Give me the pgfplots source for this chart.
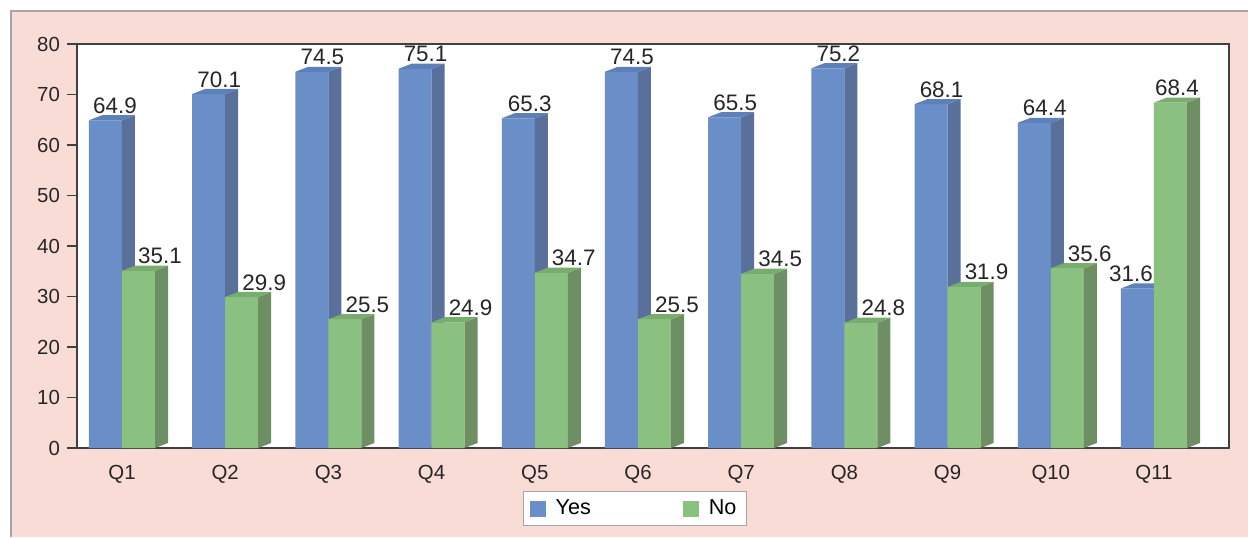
\documentclass[border=0pt]{standalone}
\usepackage{fontspec}
\setmainfont{Liberation Sans}
\usepackage{pgfplots}
\usepackage{pgfplotstable}
\pgfplotsset{compat=1.18}

\definecolor{pinkbg}{HTML}{FADCD7}
\definecolor{framegray}{HTML}{A6A6A6}
\definecolor{axisgray}{HTML}{404040}
\definecolor{yesfront}{HTML}{6A8EC8}
\definecolor{yesside}{HTML}{58709A}
\definecolor{yestop}{HTML}{5E80B9}
\definecolor{nofront}{HTML}{8AC180}
\definecolor{noside}{HTML}{6E8E64}
\definecolor{notop}{HTML}{79AC6F}

% answers per question (percent); ydx/ndx: horizontal position of the value labels
% relative to the middle of each pair of bars (pt)
\pgfplotstableread{
q  yes   no    ydx    ndx
0  64.9  35.1  -3.5   19.0
1  70.1  29.9  -3.0   19.5
2  74.5  25.5  -3.0   19.5
3  75.1  24.9  -3.0   19.5
4  65.3  34.7  -2.5   19.5
5  74.5  25.5  -3.0   19.5
6  65.5  34.5  -3.0   19.5
7  75.2  24.8  -3.0   19.5
8  68.1  31.9  -3.0   19.5
9  64.4  35.6  -3.0   19.5
10 31.6  68.4  -11.5  11.5
}\answers

% geometry of the pseudo-3D bars (axis units)
\def\barw{0.32}
\def\depx{0.126}
\def\depy{1.0}

% side and top faces of one bar: #1 row, #2 column, #3 offset of the front's right edge, #4 side colour, #5 top colour
\newcommand\barfaces[5]{%
  \pgfplotstablegetelem{#1}{#2}\of\answers
  \let\val\pgfplotsretval
  \pgfmathsetmacro\xl{#1+#3-\barw}%
  \pgfmathsetmacro\xr{#1+#3}%
  \pgfmathsetmacro\xrd{#1+#3+\depx}%
  \pgfmathsetmacro\xld{#1+#3-\barw+\depx}%
  \pgfmathsetmacro\vtop{\val+\depy}%
  \edef\faces{%
    \noexpand\addplot[fill=#4, draw=none, mark=none, forget plot]
      coordinates {(\xr,0) (\xrd,\depy) (\xrd,\vtop) (\xr,\val)};
    \noexpand\addplot[fill=#5, draw=none, mark=none, forget plot]
      coordinates {(\xl,\val) (\xr,\val) (\xrd,\vtop) (\xld,\vtop)};
  }\faces
}

\pgfplotsset{
  value labels/.style={
    nodes near coords,
    every node near coord/.append style={
      font=\fontsize{11.2}{13}\selectfont, text=black!85,
      anchor=base, yshift=3.5pt, xshift=\labdx pt,
      /pgf/number format/fixed,
      /pgf/number format/precision=1,
      /pgf/number format/fixed zerofill,
      /pgf/number format/assume math mode=true},
  },
}

\begin{document}
\begin{tikzpicture}
\path[use as bounding box] (0,0) rectangle (624pt,-268.5pt);
\fill[pinkbg] (5.5pt,-5.5pt) rectangle (624pt,-268.5pt);
\draw[framegray, line width=0.8pt] (5.5pt,-268.5pt) -- (5.5pt,-5.5pt) -- (624pt,-5.5pt);

\begin{axis}[
  at={(38.5pt,-224pt)}, anchor=south west,
  scale only axis, width=576pt, height=202pt,
  xmin=-0.436, xmax=10.727, ymin=0, ymax=80,
  axis background/.style={fill=white},
  axis line style={axisgray, line width=0.75pt},
  ytick={0,10,...,80},
  ytick pos=left, tick align=outside, major tick length=5pt,
  ytick style={axisgray, line width=0.75pt},
  xtick={0,...,10},
  xticklabels={Q1,Q2,Q3,Q4,Q5,Q6,Q7,Q8,Q9,Q10,Q11},
  xtick pos=bottom, xtick style={draw=none},
  xticklabel style={yshift=0pt},
  tick label style={font=\fontsize{10.2}{12}\selectfont, text=black!85},
  /pgf/number format/assume math mode=true,
  legend columns=2,
  legend image code/.code={\fill[#1] (0pt,-4pt) rectangle (8pt,4pt);},
  legend style={
    at={(0.4844,-0.1064)}, anchor=north,
    draw=framegray, fill=white, line width=0.6pt,
    font=\fontsize{10.8}{12}\selectfont,
    inner xsep=3pt, inner ysep=2pt,
    /tikz/every odd column/.append style={column sep=3pt},
    /tikz/every even column/.append style={column sep=44pt},
  },
]

% Yes: front faces, then depth
\addplot[ybar, bar width=\barw, bar shift=-0.16, fill=yesfront, draw=none,
  visualization depends on={\thisrow{ydx}\as\labdx}, value labels]
  table[x=q, y=yes]{\answers};
\addlegendentry{Yes}
\pgfplotsforeachungrouped \i in {0,...,10}{\barfaces{\i}{yes}{0}{yesside}{yestop}}

% No: front faces, then depth
\addplot[ybar, bar width=\barw, bar shift=0.16, fill=nofront, draw=none,
  visualization depends on={\thisrow{ndx}\as\labdx}, value labels]
  table[x=q, y=no]{\answers};
\addlegendentry{No}
\pgfplotsforeachungrouped \i in {0,...,10}{\barfaces{\i}{no}{0.32}{noside}{notop}}

\end{axis}
\end{tikzpicture}
\end{document}
